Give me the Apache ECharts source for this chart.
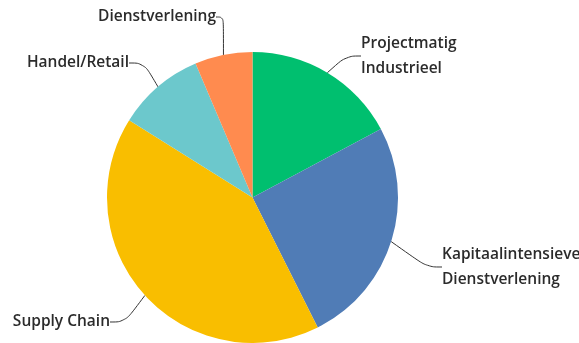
<!DOCTYPE html>
<html>
<head>
<meta charset="utf-8">
<script src="https://cdn.jsdelivr.net/npm/echarts@6/dist/echarts.min.js"></script>
<style>html,body{margin:0;padding:0;background:#fff;}#c{width:579px;height:343px;}</style>
</head>
<body>
<div id="c"></div>
<script>
const categories = ['Projectmatig\nIndustrieel', 'Kapitaalintensieve\nDienstverlening', 'Supply Chain', 'Handel/Retail', 'Dienstverlening'];
const values = [17.2, 25.4, 41.3, 9.7, 6.4];
const colors = ['#00bf6f', '#507cb6', '#f9be00', '#6cc8cc', '#ff8b4f'];

const labelPos = [
  {x: 361, y: 56, align: 'left'},
  {x: 442, y: 267, align: 'left'},
  {x: 110, y: 322, align: 'right'},
  {x: 129, y: 63, align: 'right'},
  {x: 216, y: 17, align: 'right'}
];

const chart = echarts.init(document.getElementById('c'), null, {renderer: 'canvas'});
chart.setOption({
  animation: false,
  series: [{
    type: 'pie',
    center: [252.5, 197.5],
    radius: [0, 145.5],
    startAngle: 90,
    clockwise: true,
    data: categories.map((n, i) => ({name: n, value: values[i], itemStyle: {color: colors[i]}})),
    label: {
      show: true,
      formatter: '{b}',
      color: '#2b2b2b',
      fontFamily: 'Open Sans',
      fontWeight: 600,
      fontSize: 15.5,
      lineHeight: 25
    },
    labelLine: {
      show: true,
      smooth: 0.4,
      length: 15,
      length2: 15,
      lineStyle: {color: '#333', width: 1}
    },
    labelLayout: function (p) {
      const lp = labelPos[p.dataIndex];
      return {x: lp.x, y: lp.y, align: lp.align, verticalAlign: 'middle'};
    }
  }]
});
</script>
</body>
</html>
